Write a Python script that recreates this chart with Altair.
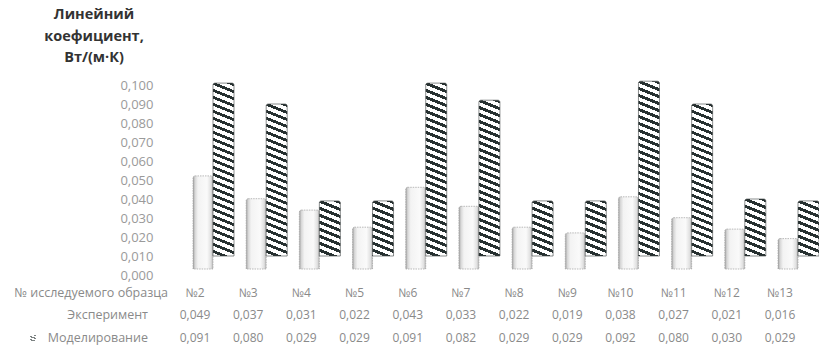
import altair as alt
import pandas as pd

# ---------------- data ----------------
categories = ["№2", "№3", "№4", "№5", "№6", "№7", "№8", "№9", "№10", "№11", "№12", "№13"]
experiment = [0.049, 0.037, 0.031, 0.022, 0.043, 0.033, 0.022, 0.019, 0.038, 0.027, 0.021, 0.016]
modeling = [0.091, 0.080, 0.029, 0.029, 0.091, 0.082, 0.029, 0.029, 0.092, 0.080, 0.030, 0.029]
y_ticks = [0.000, 0.010, 0.020, 0.030, 0.040, 0.050, 0.060, 0.070, 0.080, 0.090, 0.100]
title_text = "Линейний\nкоефициент,\nВт/(м·К)"
row_titles = ["№ исследуемого образца", "Эксперимент", "Моделирование"]


def fmt(v):
    return f"{v:.3f}".replace(".", ",")


df = pd.DataFrame({
    "cat": categories,
    "exp": experiment,
    "mod": modeling,
    "exp_lbl": [fmt(v) for v in experiment],
    "mod_lbl": [fmt(v) for v in modeling],
})

# ---------------- layout constants ----------------
PLOT_W, PLOT_H = 649, 190
PX_PER_UNIT = PLOT_H / 0.1
FONT = "Open Sans"
TXT = "#8a8a8a"
DARK = "#263030"


def stripe_grad(w, h, s=0.40, period=7.0, frac=0.45, dark=DARK, light="#ffffff"):
    L = h + s * w
    c = L / (s * s * w * w + h * h)
    x2 = 1 - c * s * w
    y2 = c * h
    stops = []
    k = 0
    while k * period < L:
        a = k * period / L
        b = min((k * period + frac * period) / L, 1.0)
        e = min((k + 1) * period / L, 1.0)
        stops += [(a, dark), (b, dark), (b, light), (e, light)]
        k += 1
    return alt.Gradient(
        gradient="linear", x1=1, y1=0, x2=x2, y2=y2,
        stops=[alt.GradientStop(offset=o, color=col) for o, col in stops],
    )


exp_grad = alt.Gradient(
    gradient="linear", x1=0, y1=0, x2=1, y2=0,
    stops=[
        alt.GradientStop(offset=0.0, color="#9c9c9c"),
        alt.GradientStop(offset=0.10, color="#d6d6d6"),
        alt.GradientStop(offset=0.25, color="#f3f3f3"),
        alt.GradientStop(offset=0.70, color="#fafafa"),
        alt.GradientStop(offset=0.90, color="#e0e0e0"),
        alt.GradientStop(offset=1.0, color="#b2b2b2"),
    ],
)

x_scale = alt.Scale(domain=categories, range=[16.4, 654.6], paddingInner=0, paddingOuter=0)
y_scale = alt.Scale(domain=[0, 0.1], nice=False, zero=True)
y_axis = alt.Axis(
    values=y_ticks,
    labelExpr="replace(format(datum.value, '.3f'), '.', ',')",
    domain=False, ticks=False, grid=False, title=None,
    labelPadding=17, labelColor="#9a9a9a", labelFont=FONT, labelFontSize=13,
)
X = alt.X("cat:N", scale=x_scale, sort=categories, axis=None)

base = alt.Chart(df)

layers = []

# experiment bars
layers.append(
    base.mark_bar(
        width=20, xOffset=-10, yOffset=-6, y2Offset=-6, fill=exp_grad,
        stroke="#a8a8a8", strokeWidth=0.8, strokeDash=[1.5, 1],
        cornerRadiusTopLeft=2, cornerRadiusTopRight=2,
    ).encode(x=X, y=alt.Y("exp:Q", scale=y_scale, axis=y_axis), y2=alt.datum(0))
)

# modelling bars (hatched) one layer per bar so each gets its own stripe gradient
for cat, val in zip(categories, modeling):
    layers.append(
        base.transform_filter(alt.datum.cat == cat).mark_bar(
            width=21, xOffset=10.5, yOffset=-19, y2Offset=-19,
            fill=stripe_grad(21, val * PX_PER_UNIT), stroke="#3a4040", strokeWidth=0.6,
            cornerRadiusTopLeft=2, cornerRadiusTopRight=2,
        ).encode(x=X, y=alt.Y("mod:Q", scale=y_scale, axis=y_axis), y2=alt.datum(0))
    )

# data table rows
for field, ypos in [("cat", 208), ("exp_lbl", 230), ("mod_lbl", 253)]:
    layers.append(
        base.mark_text(dx=-18, font=FONT, fontSize=12, color=TXT, baseline="middle").encode(
            x=X, y=alt.value(ypos), text=f"{field}:N"
        )
    )

# row titles
for label, xpos, ypos in zip(row_titles, [-2, -22, -22], [208, 230, 253]):
    layers.append(
        alt.Chart(pd.DataFrame({"label": [label]})).mark_text(
            align="right", baseline="middle", font=FONT, fontSize=12.5, color=TXT
        ).encode(x=alt.value(xpos), y=alt.value(ypos), text="label:N")
    )

# legend key for modelling in table
layers.append(
    alt.Chart(pd.DataFrame({"label": ["key"]})).mark_square(
        size=36, fill=stripe_grad(6, 6, period=3.0), opacity=0.6
    ).encode(x=alt.value(-137), y=alt.value(253))
)

# axis title
layers.append(
    alt.Chart(pd.DataFrame({"label": [title_text]})).mark_text(
        align="center", baseline="top", font=FONT, fontSize=14.5, fontWeight="bold",
        color="#333333", lineBreak="\n", lineHeight=21.5,
    ).encode(x=alt.value(-76), y=alt.value(-77), text="label:N")
)

chart = alt.layer(*layers).properties(
    width=PLOT_W, height=PLOT_H,
    autosize=alt.AutoSizeParams(type="none"),
    padding={"left": 170, "top": 85, "right": 0, "bottom": 75},
    background="white",
).configure_view(stroke=None)

chart.save("out.html", embed_options={"renderer": "svg", "actions": False})
